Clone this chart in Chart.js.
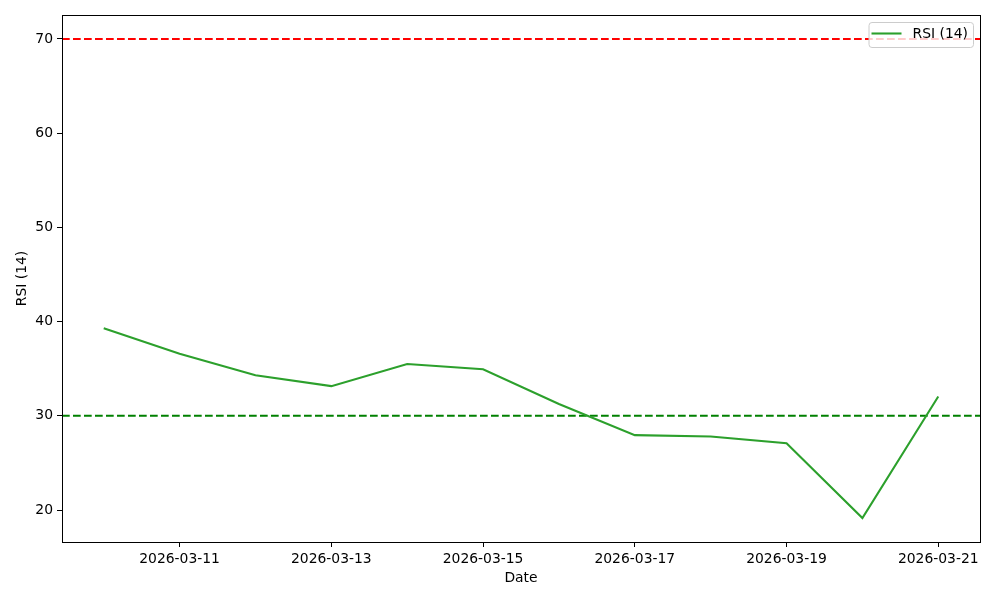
<!DOCTYPE html>
<html>
<head>
<meta charset="utf-8">
<script src="https://cdn.jsdelivr.net/npm/chart.js@4.4.1/dist/chart.umd.min.js"></script>
<style>
  html, body { margin: 0; padding: 0; background: #fff; }
  #wrap { width: 1000px; height: 600px; }
</style>
</head>
<body>
<div id="wrap"><canvas id="rsiChart" width="1000" height="600"></canvas></div>
<script>
// Data
const dates = ['2026-03-10', '2026-03-11', '2026-03-12', '2026-03-13', '2026-03-14', '2026-03-15',
               '2026-03-16', '2026-03-17', '2026-03-18', '2026-03-19', '2026-03-20', '2026-03-21'];
const rsiValues = [39.3, 36.6, 34.3, 33.15, 35.5, 34.95, 31.25, 27.95, 27.8, 27.1, 19.15, 32.05];
const overbought = 70;
const oversold = 30;
const yTicks = [20, 30, 40, 50, 60, 70];
const xTickDates = ['2026-03-11', '2026-03-13', '2026-03-15', '2026-03-17', '2026-03-19', '2026-03-21'];

const FONT = { family: 'DejaVu Sans', size: 13.9 };
const LW = 2.08;              // 1.5pt at 100 dpi
const DASH = [7.7, 3.3];

// x positions are day indices; matplotlib-style 5% margins
const span = dates.length - 1;
const xMin = -0.05 * span;
const xMax = span + 0.05 * span;
const yLo = Math.min(...rsiValues, overbought, oversold);
const yHi = Math.max(...rsiValues, overbought, oversold);
const yMin = yLo - 0.05 * (yHi - yLo);
const yMax = yHi + 0.05 * (yHi - yLo);

const rsiPoints = rsiValues.map((v, i) => ({ x: i, y: v }));

// frame + boxed legend like matplotlib
const framePlugin = {
    id: 'frame',
    afterDraw(chart) {
        const { ctx, chartArea: a } = chart;
        ctx.save();
        ctx.strokeStyle = '#000';
        ctx.lineWidth = 1;
        ctx.strokeRect(a.left + 0.5, a.top + 0.5, a.right - a.left, a.bottom - a.top);

        // legend
        const ds = chart.data.datasets[0];
        ctx.font = '13.9px "DejaVu Sans"';
        const tw = ctx.measureText(ds.label).width;
        const w = 3 + 30 + 11 + tw + 5;
        const h = 25;
        const x = a.right - 7 - w;
        const y = a.top + 7;
        ctx.beginPath();
        ctx.roundRect(x + 0.5, y + 0.5, w, h, 3);
        ctx.fillStyle = 'rgba(255,255,255,0.8)';
        ctx.fill();
        ctx.strokeStyle = '#cccccc';
        ctx.lineWidth = 1;
        ctx.stroke();
        ctx.beginPath();
        ctx.moveTo(x + 3, y + 11.5);
        ctx.lineTo(x + 33, y + 11.5);
        ctx.strokeStyle = ds.borderColor;
        ctx.lineWidth = LW;
        ctx.stroke();
        ctx.fillStyle = '#000';
        ctx.textBaseline = 'middle';
        ctx.fillText(ds.label, x + 44, y + 12.5);
        ctx.restore();
    }
};

new Chart(document.getElementById('rsiChart'), {
    type: 'line',
    data: {
        datasets: [
            {
                label: 'RSI (14)',
                data: rsiPoints,
                borderColor: '#2ca02c',
                borderWidth: LW,
                pointRadius: 0,
                tension: 0,
                order: 0
            },
            {
                label: 'Overbought',
                data: [{ x: xMin, y: overbought }, { x: xMax, y: overbought }],
                borderColor: '#ff0000',
                borderWidth: LW,
                borderDash: DASH,
                pointRadius: 0,
                order: 1
            },
            {
                label: 'Oversold',
                data: [{ x: xMin, y: oversold }, { x: xMax, y: oversold }],
                borderColor: '#008000',
                borderWidth: LW,
                borderDash: DASH,
                pointRadius: 0,
                order: 1
            }
        ]
    },
    options: {
        responsive: false,
        animation: false,
        layout: { padding: { top: 15, right: 20, left: 0, bottom: 0 } },
        scales: {
            x: {
                type: 'linear',
                min: xMin,
                max: xMax,
                afterBuildTicks: scale => {
                    scale.ticks = xTickDates.map(d => ({ value: dates.indexOf(d) }));
                },
                afterFit: scale => { scale.height = 58; },
                ticks: {
                    color: '#000',
                    font: FONT,
                    padding: 4,
                    maxRotation: 0,
                    autoSkip: false,
                    callback: v => dates[v]
                },
                grid: { drawOnChartArea: false, drawTicks: true, tickLength: 5, color: '#000' },
                border: { display: true, color: '#000' },
                title: { display: true, text: 'Date', color: '#000', font: FONT, padding: { top: 4, bottom: 13 } }
            },
            y: {
                min: yMin,
                max: yMax,
                afterBuildTicks: scale => {
                    scale.ticks = yTicks.map(v => ({ value: v }));
                },
                afterFit: scale => { scale.width = 62; },
                ticks: { color: '#000', font: FONT, padding: 4 },
                grid: { drawOnChartArea: false, drawTicks: true, tickLength: 5, color: '#000' },
                border: { display: true, color: '#000' },
                title: { display: true, text: 'RSI (14)', color: '#000', font: FONT, padding: { top: 14, bottom: 0 } }
            }
        },
        plugins: {
            legend: { display: false },
            tooltip: { enabled: false }
        }
    },
    plugins: [framePlugin]
});
</script>
</body>
</html>
